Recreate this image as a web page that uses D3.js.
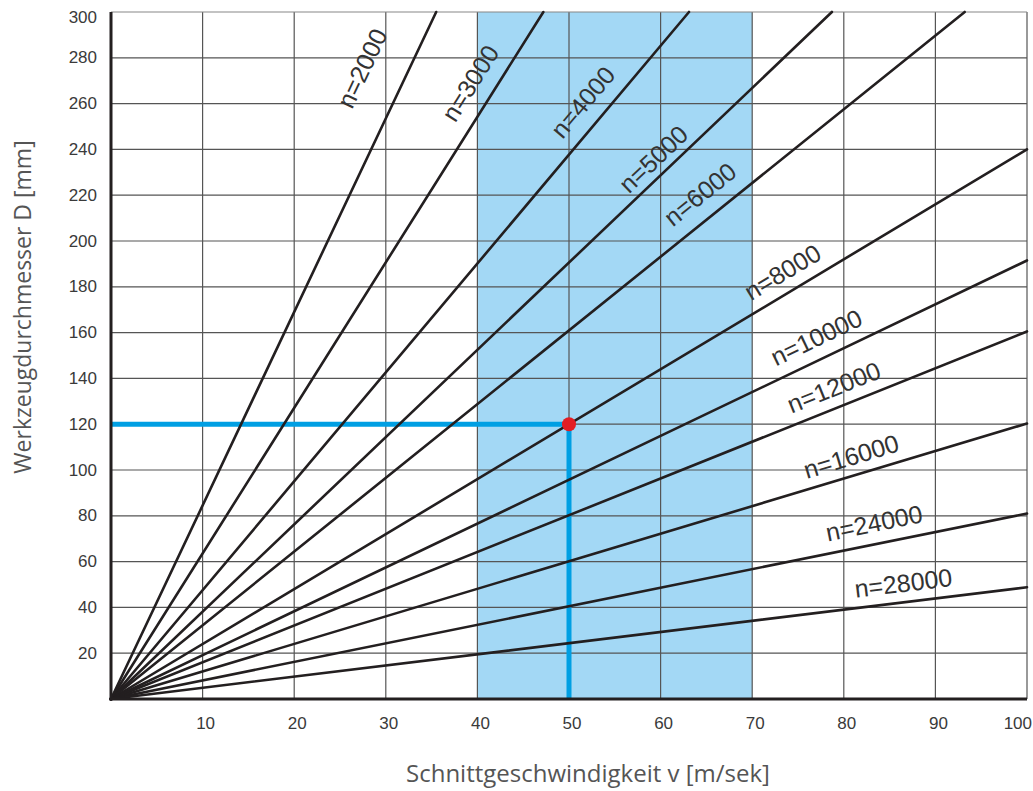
<!DOCTYPE html>
<html>
<head>
<meta charset="utf-8">
<script src="https://cdn.jsdelivr.net/npm/d3@7"></script>
<style>
  html, body { margin: 0; padding: 0; background: #fff; }
  svg { display: block; }
</style>
</head>
<body>
<svg id="chart"></svg>
<script>
// spindle speeds (rpm) and where each line leaves the plot (v, D)
const speeds = [2000, 3000, 4000, 5000, 6000, 8000, 10000, 12000, 16000, 24000, 28000];
const endV = [35.5, 47.2, 63.1, 78.7, 93.2, 100, 100, 100, 100, 100, 100];
const endD = [300, 300, 300, 300, 300, 240, 191.5, 160.5, 120.3, 81, 48.8];

// label anchor along each line, in chart units
const labelV = [27.4, 39.2, 51.5, 59.2, 64.3, 73.3, 77.0, 78.9, 80.8, 83.3, 86.5];
const labelD = [275.5, 269, 260.7, 235.8, 220.5, 186.5, 158, 136.2, 106, 76.9, 50.7];

const xTicks = [10, 20, 30, 40, 50, 60, 70, 80, 90, 100];
const yTicks = [20, 40, 60, 80, 100, 120, 140, 160, 180, 200, 220, 240, 260, 280, 300];

// recommended speed band and worked example
const band = [40, 70];
const example = { v: 50, D: 120 };

const W = 1033, H = 791;
const margin = { top: 12, right: 6, bottom: 92, left: 111 };
const width = W - margin.left - margin.right;
const height = H - margin.top - margin.bottom;

const svg = d3.select("#chart").attr("width", W).attr("height", H);

const x = d3.scaleLinear().domain([0, 100]).range([0, width]);
const y = d3.scaleLinear().domain([0, 300]).range([height, 0]);

const g = svg.append("g").attr("transform", `translate(${margin.left},${margin.top})`);

// blue band
g.append("rect")
	.attr("x", x(band[0]))
	.attr("y", 0)
	.attr("width", x(band[1]) - x(band[0]))
	.attr("height", height)
	.attr("fill", "#a3d8f5");

// grid
g.append("g")
	.selectAll("line")
	.data(xTicks)
	.join("line")
	.attr("x1", (d) => x(d))
	.attr("x2", (d) => x(d))
	.attr("y1", 0)
	.attr("y2", height)
	.attr("stroke", "#555")
	.attr("stroke-width", 1.2);

g.append("g")
	.selectAll("line")
	.data(yTicks)
	.join("line")
	.attr("x1", 0)
	.attr("x2", width)
	.attr("y1", (d) => y(d))
	.attr("y2", (d) => y(d))
	.attr("stroke", (d) => (d === 300 ? "#888" : "#555"))
	.attr("stroke-width", 1.2);

// blue guide lines to the example point
g.append("line")
	.attr("x1", x(0))
	.attr("x2", x(example.v))
	.attr("y1", y(example.D))
	.attr("y2", y(example.D))
	.attr("stroke", "#009fe3")
	.attr("stroke-width", 5);
g.append("line")
	.attr("x1", x(example.v))
	.attr("x2", x(example.v))
	.attr("y1", y(example.D))
	.attr("y2", y(0))
	.attr("stroke", "#009fe3")
	.attr("stroke-width", 5);

// speed lines
const line = d3.line().x((d) => x(d[0])).y((d) => y(d[1]));
g.append("g")
	.selectAll("path")
	.data(speeds.map((n, i) => [[0, 0], [endV[i], endD[i]]]))
	.join("path")
	.attr("d", line)
	.attr("fill", "none")
	.attr("stroke", "#231f20")
	.attr("stroke-width", 2.6)
	.attr("stroke-linecap", "round");

// axes (thick left and bottom)
g.append("line")
	.attr("x1", 0).attr("x2", 0)
	.attr("y1", 0).attr("y2", height + 1.5)
	.attr("stroke", "#231f20").attr("stroke-width", 3);
g.append("line")
	.attr("x1", -1.5).attr("x2", width)
	.attr("y1", height).attr("y2", height)
	.attr("stroke", "#231f20").attr("stroke-width", 3);

// example point
g.append("circle")
	.attr("cx", x(example.v))
	.attr("cy", y(example.D))
	.attr("r", 7)
	.attr("fill", "#e31e24");

// line labels
g.append("g")
	.selectAll("text")
	.data(speeds)
	.join("text")
	.attr("transform", (n, i) => {
		const a = Math.atan2(y(endD[i]) - y(0), x(endV[i]) - x(0)) * 180 / Math.PI;
		return `translate(${x(labelV[i])},${y(labelD[i])}) rotate(${a})`;
	})
	.attr("text-anchor", "middle")
	.attr("dominant-baseline", "central")
	.attr("font-family", "'Liberation Sans', Arial, sans-serif")
	.attr("font-size", 25)
	.attr("fill", "#333")
	.text((n) => `n=${n}`);

// tick labels
g.append("g")
	.selectAll("text")
	.data(yTicks)
	.join("text")
	.attr("x", -14)
	.attr("y", (d) => Math.max(y(d), 5))
	.attr("text-anchor", "end")
	.attr("dominant-baseline", "central")
	.attr("font-family", "'Liberation Sans', Arial, sans-serif")
	.attr("font-size", 17)
	.attr("fill", "#3a3a3a")
	.text((d) => d);

g.append("g")
	.selectAll("text")
	.data(xTicks)
	.join("text")
	.attr("x", (d) => (d === 100 ? width + 5 : x(d) + 3))
	.attr("y", height + 24)
	.attr("text-anchor", (d) => (d === 100 ? "end" : "middle"))
	.attr("dominant-baseline", "central")
	.attr("font-family", "'Liberation Sans', Arial, sans-serif")
	.attr("font-size", 17)
	.attr("fill", "#3a3a3a")
	.text((d) => d);

// axis titles
svg.append("text")
	.attr("transform", "translate(31,307) rotate(-90)")
	.attr("text-anchor", "middle")
	.attr("font-family", "'Open Sans', sans-serif")
	.attr("font-size", 23)
	.attr("fill", "#555")
	.text("Werkzeugdurchmesser D [mm]");

svg.append("text")
	.attr("x", 588)
	.attr("y", 782)
	.attr("text-anchor", "middle")
	.attr("font-family", "'Open Sans', sans-serif")
	.attr("font-size", 24)
	.attr("fill", "#555")
	.text("Schnittgeschwindigkeit v [m/sek]");
</script>
</body>
</html>
